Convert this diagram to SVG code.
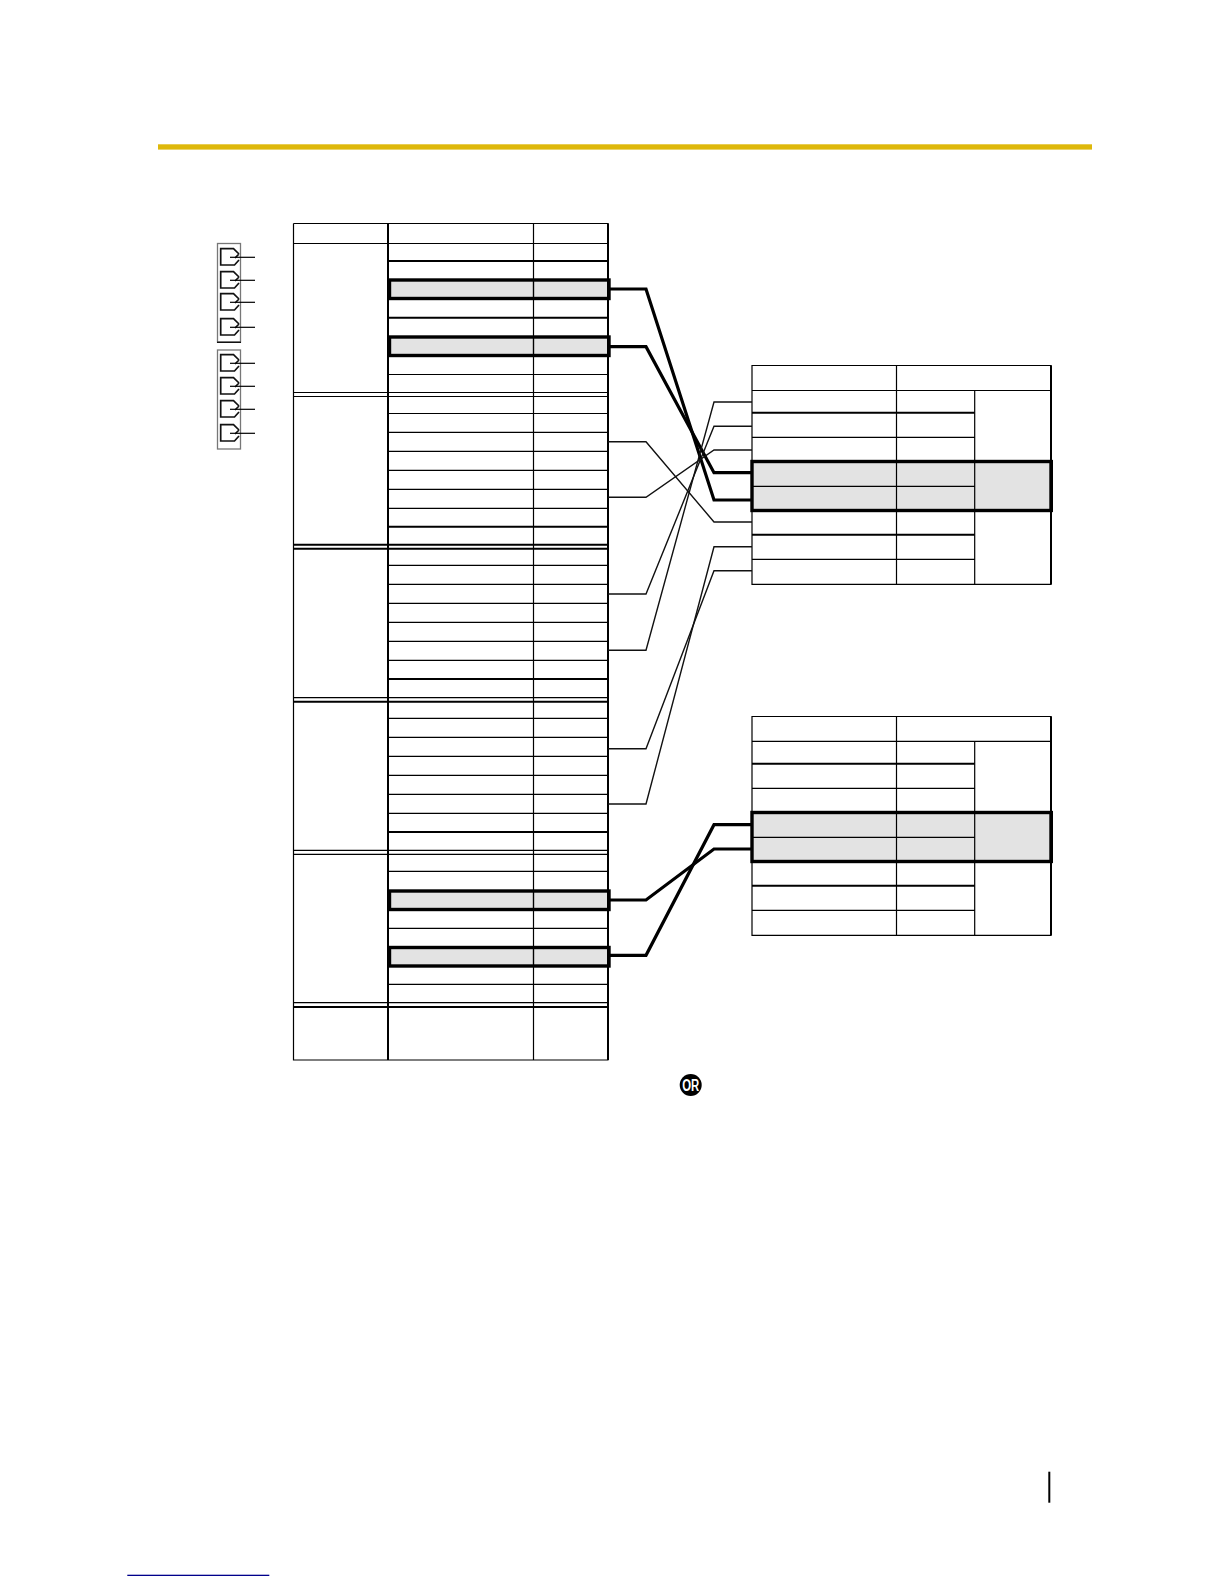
<svg xmlns="http://www.w3.org/2000/svg" width="1224" height="1584" viewBox="0 0 1224 1584">
<style>
.t{stroke:#000;stroke-width:1.2;fill:none}
.m{stroke:#000;stroke-width:2;fill:none}
.h{stroke:#000;stroke-width:3.4;fill:#e3e3e3}
.c1{stroke:#111;stroke-width:1.4;fill:none;stroke-linejoin:miter}
.c2{stroke:#000;stroke-width:3.2;fill:none;stroke-linejoin:miter}
.p{stroke:#111;stroke-width:1.7;fill:none}
.b{stroke:#777;stroke-width:1.3;fill:none}
</style>
<defs>
<g id="port"><path class="p" d="M239 254L233.5 248.7H220.7V265H234.5L239 260M239 254L235 258"/><path class="t" d="M230 257.3H255"/></g>
</defs>
<rect id="top-bar" x="158" y="144.3" width="934" height="5.3" fill="#deb80b"/>
<g id="ports">
<g id="port-group-1"><rect class="b" x="217.5" y="243.5" width="23" height="98.5"/><path class="t" d="M217 342.3H241"/>
<use href="#port"/><use href="#port" y="23"/><use href="#port" y="45"/><use href="#port" y="70"/></g>
<g id="port-group-2"><rect class="b" x="217.5" y="350" width="23" height="99"/>
<use href="#port" y="106"/><use href="#port" y="129"/><use href="#port" y="152"/><use href="#port" y="176"/></g>
</g>
<g id="left-table">
<rect class="h" x="389.5" y="280" width="219.5" height="18.5"/>
<rect class="h" x="389.5" y="337" width="219.5" height="18.5"/>
<rect class="h" x="389.5" y="891" width="219.5" height="18.5"/>
<rect class="h" x="389.5" y="947.5" width="219.5" height="18.5"/>
<path class="t" d="M293.5 223.5H608.5M293.5 243.5H608.5M293.5 223.5V1060H608.5M533.5 223.5V1060"/>
<path class="m" d="M388 223.5V1060M608 223.5V1060"/>
<path class="t" d="M293.5 392.5H608.5M293.5 396.5H608.5M293.5 697.7H608.5M293.5 850.4H608.5M293.5 854.3H608.5M293.5 1002.7H608.5"/>
<path class="m" d="M293.5 544.7H608.5M293.5 548.7H608.5M293.5 701.7H608.5M293.5 1007H608.5M388 526.7H608.5M388 679H608.5M388 832H608.5M388 261H608.5M388 317.7H608.5"/>
<path class="t" d="M388 374.5H608.5M388 413.5H608.5M388 432.3H608.5M388 451.3H608.5M388 470.3H608.5M388 489.3H608.5M388 508.3H608.5M388 565.3H608.5M388 584.3H608.5M388 603.3H608.5M388 622.3H608.5M388 641.3H608.5M388 660.3H608.5M388 718.3H608.5M388 737.3H608.5M388 756.3H608.5M388 775.3H608.5M388 794.3H608.5M388 813.3H608.5M388 871.3H608.5M388 928.3H608.5M388 984.3H608.5"/>
<path class="t" d="M533.5 280V298M533.5 337V355M533.5 891V909M533.5 948V966"/>
</g>
<g id="right-table-1">
<rect class="h" x="752" y="461.5" width="299" height="49"/>
<path class="t" d="M752 365.5H1051V584.3H752ZM752 390.5H1051M896.5 365.5V584.3M974.7 390.5V584.3M752 437.3H974.7M752 486.3H974.7M752 559.3H974.7"/>
<path class="m" d="M752 412.7H974.7M752 534.7H974.7M1051 365.5V584.3"/>
<path class="m" d="M1052 460V512"/>
</g>
<g id="right-table-2">
<rect class="h" x="752" y="812.5" width="299" height="49"/>
<path class="t" d="M752 716.5H1051V935.3H752ZM752 741.3H1051M896.5 716.5V935.3M974.7 741.3V935.3M752 788.3H974.7M752 837.3H974.7M752 910.3H974.7"/>
<path class="m" d="M752 763.7H974.7M752 885.7H974.7M1051 716.5V935.3"/>
<path class="m" d="M1052 811V863"/>
</g>
<g id="connectors">
<path class="c2" d="M609 289H646L714 500H752"/>
<path class="c2" d="M609 346.7H646L714 472.7H752"/>
<path class="c1" d="M608 441.7H646L714 522H752"/>
<path class="c1" d="M608 497.3H646L714 450H752"/>
<path class="c1" d="M608 594H646L714 426.3H752"/>
<path class="c1" d="M608 650.3H646L714 402H752"/>
<path class="c1" d="M608 748.7H646L714 570.7H752"/>
<path class="c1" d="M608 804H646L714 546.7H752"/>
<path class="c2" d="M609 900H646L714 849H752"/>
<path class="c2" d="M609 955.3H646L714 824.7H752"/>
</g>
<g id="or-badge"><circle cx="690.7" cy="1085" r="11" fill="#000"/><text x="690.7" y="1091" text-anchor="middle" font-family="'Liberation Sans',Arial,sans-serif" font-size="16" font-weight="700" fill="#fff" textLength="17" lengthAdjust="spacingAndGlyphs">OR</text></g>
<rect id="page-rule" x="1048.3" y="1471.7" width="2" height="31" fill="#000"/>
<rect id="link-rule" x="127.3" y="1574.7" width="142" height="1.3" fill="#00008b"/>
</svg>
